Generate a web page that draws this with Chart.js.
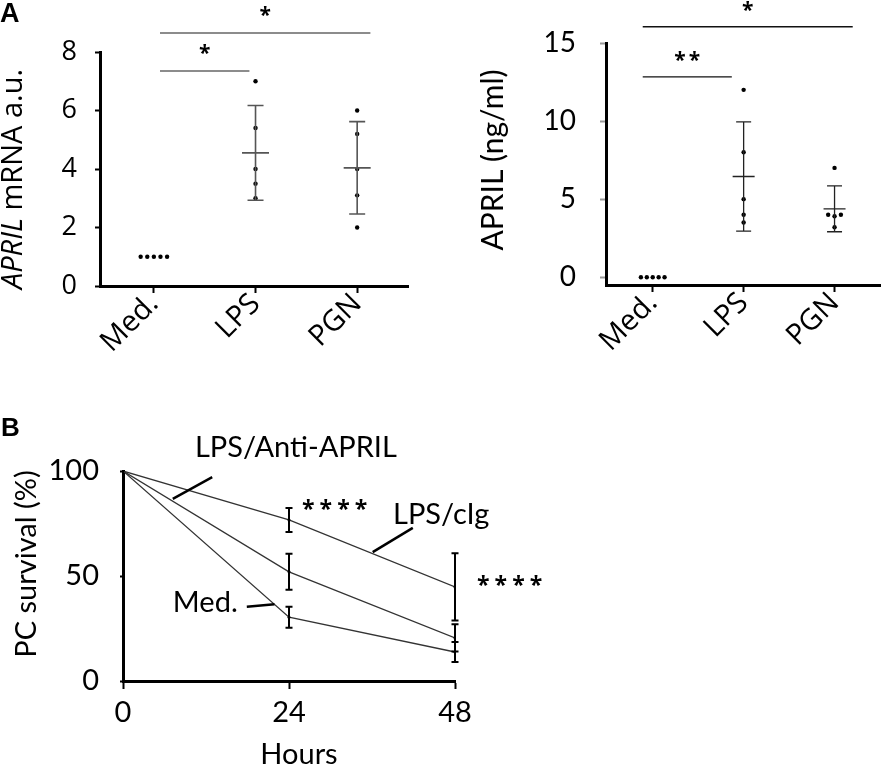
<!DOCTYPE html>
<html>
<head>
<meta charset="utf-8">
<script src="https://cdn.jsdelivr.net/npm/chart.js@4.4.1/dist/chart.umd.min.js"></script>
<style>
  html, body { margin: 0; padding: 0; background: #fff; }
  body { width: 884px; height: 769px; position: relative; overflow: hidden; }
  canvas { position: absolute; }
</style>
</head>
<body>
<canvas id="mrna" width="420" height="380" style="left:0;top:0"></canvas>
<canvas id="protein" width="404" height="380" style="left:480px;top:0"></canvas>
<canvas id="survival" width="560" height="369" style="left:0;top:400px"></canvas>
<script>
// ---- panel A: dot plots ----
const groups = ['Med.', 'LPS', 'PGN'];

const mrnaMed = [1, 1, 1, 1, 1];
const mrnaLps = [7.0, 5.4, 4.0, 3.5, 3.0];
const mrnaPgn = [6.0, 5.2, 4.0, 3.1, 2.0];
const mrnaMean = [null, 4.55, 4.04];
const mrnaSd = [null, 1.62, 1.58];
const mrnaTicks = [0, 2, 4, 6, 8];

const aprilMed = [0, 0, 0, 0, 0];
const aprilLps = [12, 8, 5, 4, 3.5];
const aprilPgn = [7, 4, 4, 3.9, 3.2];
const aprilMean = [null, 6.45, 4.38];
const aprilSd = [null, 3.5, 1.47];
const aprilTicks = [0, 5, 10, 15];

// significance bars: [from group, to group, height, stars]
const mrnaSig = [[0.06, 0.94, 7.35, '*'], [0.06, 2.13, 8.65, '*']];
const aprilSig = [[-0.11, 0.87, 12.83, '**'], [-0.11, 2.2, 16.04, '*']];

// horizontal spread of overlapping dots (group units)
const medSpread = [-0.13, -0.065, 0, 0.065, 0.13];
const pgnSpread = [0, -0.07, 0.07, 0, 0];

// ---- panel B: survival ----
const hours = [0, 24, 48];
const survCig = [100, 76.7, 44.8];
const errCig = [0, 5.7, 16];
const survAnti = [100, 52, 20.5];
const errAnti = [0, 8.6, 6.5];
const survMed = [100, 30.4, 13.8];
const errMed = [0, 5, 4.8];
const survTicks = [0, 50, 100];

function pts(vals, group, spread) {
  return vals.map((v, k) => ({ x: group + (spread ? spread[k] : 0), y: v }));
}

function fontStr(t, style) {
  return [style, t.weight, t.size + 'px', t.family].filter(Boolean).join(' ');
}

// means/sd, significance bars, error bars, leader lines and free text
function makeExtras(o) {
  return {
    id: 'extras',
    afterDatasetsDraw(chart) {
      const { ctx, scales: { x, y } } = chart;
      ctx.save();
      if (o.mean) {
        ctx.strokeStyle = o.barColor;
        ctx.lineWidth = o.barWidth;
        o.mean.forEach((m, i) => {
          if (m == null) return;
          const cx = x.getPixelForValue(i);
          const yM = y.getPixelForValue(m);
          const yT = y.getPixelForValue(m + o.sd[i]);
          const yB = y.getPixelForValue(m - o.sd[i]);
          ctx.beginPath();
          ctx.moveTo(cx - o.meanHalf, yM); ctx.lineTo(cx + o.meanHalf, yM);
          ctx.moveTo(cx, yT); ctx.lineTo(cx, yB);
          ctx.moveTo(cx - o.capHalf, yT); ctx.lineTo(cx + o.capHalf, yT);
          ctx.moveTo(cx - o.capHalf, yB); ctx.lineTo(cx + o.capHalf, yB);
          ctx.stroke();
        });
      }
      if (o.sig) {
        o.sig.forEach(([a, b, h, stars]) => {
          const x0 = x.getPixelForValue(a), x1 = x.getPixelForValue(b), yy = y.getPixelForValue(h);
          ctx.strokeStyle = o.sigColor;
          ctx.lineWidth = o.sigWidth;
          ctx.beginPath(); ctx.moveTo(x0, yy); ctx.lineTo(x1, yy); ctx.stroke();
          ctx.fillStyle = '#000';
          ctx.font = fontStr(o.starFont);
          ctx.letterSpacing = '3px';
          ctx.textAlign = 'center';
          ctx.textBaseline = 'middle';
          ctx.fillText(stars, (x0 + x1) / 2 + 1.5, yy - o.starGap);
          ctx.letterSpacing = '0px';
        });
      }
      if (o.errors) {
        ctx.strokeStyle = '#000';
        ctx.lineWidth = 2;
        chart.data.datasets.forEach(ds => {
          ds.data.forEach((p, i) => {
            const e = ds.err[i];
            if (!e) return;
            const cx = x.getPixelForValue(p.x);
            const yT = y.getPixelForValue(p.y + e), yB = y.getPixelForValue(p.y - e);
            ctx.beginPath();
            ctx.moveTo(cx, yT); ctx.lineTo(cx, yB);
            ctx.moveTo(cx - o.capHalf, yT); ctx.lineTo(cx + o.capHalf, yT);
            ctx.moveTo(cx - o.capHalf, yB); ctx.lineTo(cx + o.capHalf, yB);
            ctx.stroke();
          });
        });
      }
      if (o.leaders) {
        ctx.strokeStyle = '#000';
        ctx.lineWidth = 2.5;
        o.leaders.forEach(([p, q]) => {
          ctx.beginPath();
          ctx.moveTo(x.getPixelForValue(p[0]), y.getPixelForValue(p[1]));
          ctx.lineTo(x.getPixelForValue(q[0]), y.getPixelForValue(q[1]));
          ctx.stroke();
        });
      }
      ctx.restore();
    },
    afterDraw(chart) {
      const { ctx, scales: { x, y } } = chart;
      (o.items || []).forEach(t => {
        const px = t.px ? t.px[0] : x.getPixelForValue(t.at[0]);
        const py = t.px ? t.px[1] : y.getPixelForValue(t.at[1]);
        ctx.save();
        ctx.translate(px, py);
        if (t.rot) ctx.rotate(t.rot * Math.PI / 180);
        ctx.fillStyle = '#000';
        ctx.textBaseline = 'middle';
        ctx.textAlign = 'left';
        ctx.letterSpacing = (t.spacing || 0) + 'px';
        const parts = typeof t.text === 'string' ? [[t.text, '']] : t.text;
        const widths = parts.map(p => { ctx.font = fontStr(t, p[1]); return ctx.measureText(p[0]).width; });
        const total = widths.reduce((s, w) => s + w, 0) - (t.spacing || 0);
        let cx = t.align === 'left' ? 0 : -total / 2;
        parts.forEach((p, i) => {
          ctx.font = fontStr(t, p[1]);
          ctx.fillText(p[0], cx, (t.shift || 0) * t.size);
          cx += widths[i];
        });
        ctx.restore();
      });
    }
  };
}

const OPEN = "'Open Sans'";
const LATO = 'Lato';

function axisStyle(tickLen, tickColor) {
  return {
    grid: { drawOnChartArea: false, tickLength: tickLen, tickWidth: 2, tickColor: tickColor },
    border: { width: 3, color: '#000' }
  };
}

function dotChart(id, cfg) {
  return new Chart(document.getElementById(id), {
    type: 'scatter',
    data: { datasets: cfg.sets.map(d => ({ data: d })) },
    options: {
      responsive: false,
      animation: false,
      layout: { padding: { top: cfg.top, right: cfg.right, left: 0, bottom: 0 } },
      elements: { point: { radius: 2.2, backgroundColor: '#000', borderWidth: 0 } },
      plugins: { legend: { display: false }, tooltip: { enabled: false } },
      scales: {
        x: Object.assign({
          type: 'linear', min: cfg.xMin, max: 2.5,
          afterBuildTicks: s => { s.ticks = groups.map((g, i) => ({ value: i })); },
          afterFit: s => { s.height = cfg.xHeight; },
          ticks: {
            callback: v => groups[v], minRotation: 45, maxRotation: 45, autoSkip: false,
            color: '#000', font: { family: OPEN, size: 29 }, padding: -6
          }
        }, axisStyle(7, '#000')),
        y: Object.assign({
          min: cfg.yMin, max: cfg.yMax,
          afterBuildTicks: s => { s.ticks = cfg.yTicks.map(v => ({ value: v })); },
          afterFit: s => { s.width = cfg.yWidth; },
          ticks: { color: '#000', font: cfg.tickFont, padding: cfg.tickPad }
        }, axisStyle(cfg.yTickLen, cfg.yTickColor))
      }
    },
    plugins: [makeExtras(cfg.extras)]
  });
}

dotChart('mrna', {
  sets: [pts(mrnaMed, 0, medSpread), pts(mrnaLps, 1), pts(mrnaPgn, 2)],
  top: 52, right: 12, xMin: -0.53, xHeight: 94, yWidth: 100,
  yMin: 0, yMax: 8, yTicks: mrnaTicks,
  tickFont: { family: OPEN, size: 27 }, tickPad: 18, yTickLen: 5, yTickColor: '#000',
  extras: {
    mean: mrnaMean, sd: mrnaSd, barColor: '#555', barWidth: 1.6, meanHalf: 13.5, capHalf: 8,
    sig: mrnaSig, sigColor: '#666', sigWidth: 1.6, starGap: 17,
    starFont: { family: OPEN, weight: 'bold', size: 21 },
    items: [
      { text: 'A', px: [0, 15], family: "'Liberation Sans'", weight: 'bold', size: 27, align: 'left' },
      { text: [['APRIL', 'italic'], [' mRNA a.u.', '']], px: [14, 179], rot: -90, family: OPEN, size: 29 }
    ]
  }
});

dotChart('protein', {
  sets: [pts(aprilMed, 0, medSpread), pts(aprilLps, 1), pts(aprilPgn, 2, pgnSpread)],
  top: 43, right: 2, xMin: -0.514, xHeight: 95, yWidth: 126,
  yMin: -0.5, yMax: 15, yTicks: aprilTicks,
  tickFont: { family: LATO, size: 28 }, tickPad: 24, yTickLen: 6, yTickColor: '#999',
  extras: {
    mean: aprilMean, sd: aprilSd, barColor: '#222', barWidth: 1.3, meanHalf: 11, capHalf: 7.5,
    sig: aprilSig, sigColor: '#111', sigWidth: 1.3, starGap: 16,
    starFont: { family: OPEN, weight: 'bold', size: 21 },
    items: [
      { text: 'APRIL (ng/ml)', px: [13, 160], rot: -90, family: LATO, size: 30 }
    ]
  }
});

const line = (vals, err) => ({ data: hours.map((h, i) => ({ x: h, y: vals[i] })), err: err });

new Chart(document.getElementById('survival'), {
  type: 'line',
  data: { datasets: [line(survCig, errCig), line(survAnti, errAnti), line(survMed, errMed)] },
  options: {
    responsive: false,
    animation: false,
    layout: { padding: { top: 71, right: 105, left: 0, bottom: 0 } },
    elements: {
      line: { borderColor: '#333', borderWidth: 1.3, tension: 0, fill: false },
      point: { radius: 1.5, backgroundColor: '#000', borderWidth: 0 }
    },
    plugins: { legend: { display: false }, tooltip: { enabled: false } },
    scales: {
      x: Object.assign({
        type: 'linear', min: 0, max: 48,
        afterBuildTicks: s => { s.ticks = hours.map(v => ({ value: v })); },
        afterFit: s => { s.height = 88; },
        ticks: { color: '#000', font: { family: LATO, size: 29 }, padding: 6, maxRotation: 0 }
      }, axisStyle(8, '#000')),
      y: Object.assign({
        min: 0, max: 100,
        afterBuildTicks: s => { s.ticks = survTicks.map(v => ({ value: v })); },
        afterFit: s => { s.width = 123; },
        ticks: { color: '#000', font: { family: LATO, size: 29 }, padding: 21 }
      }, axisStyle(3, '#000'))
    }
  },
  plugins: [makeExtras({
    errors: true, capHalf: 3.5,
    leaders: [[[7.2, 86.7], [12.9, 97.1]], [[36.1, 61.4], [41.9, 72.9]], [[17.9, 35.4], [21.9, 36.5]]],
    items: [
      { text: 'B', px: [1, 29], family: "'Liberation Sans'", weight: 'bold', size: 26, align: 'left' },
      { text: 'PC survival (%)', px: [27, 164], rot: -90, family: LATO, size: 29 },
      { text: 'Hours', px: [299, 355], family: LATO, size: 29 },
      { text: 'LPS/Anti-APRIL', at: [25.0, 111], family: LATO, size: 29 },
      { text: 'LPS/cIg', at: [46, 79], family: LATO, size: 29 },
      { text: 'Med.', at: [11.9, 37.1], family: LATO, size: 29 },
      { text: '****', at: [30.6, 83.3], family: OPEN, weight: 'bold', size: 23, spacing: 5, shift: 0.2 },
      { text: '****', at: [55.9, 47.1], family: OPEN, weight: 'bold', size: 23, spacing: 5, shift: 0.2 }
    ]
  })]
});
</script>
</body>
</html>
